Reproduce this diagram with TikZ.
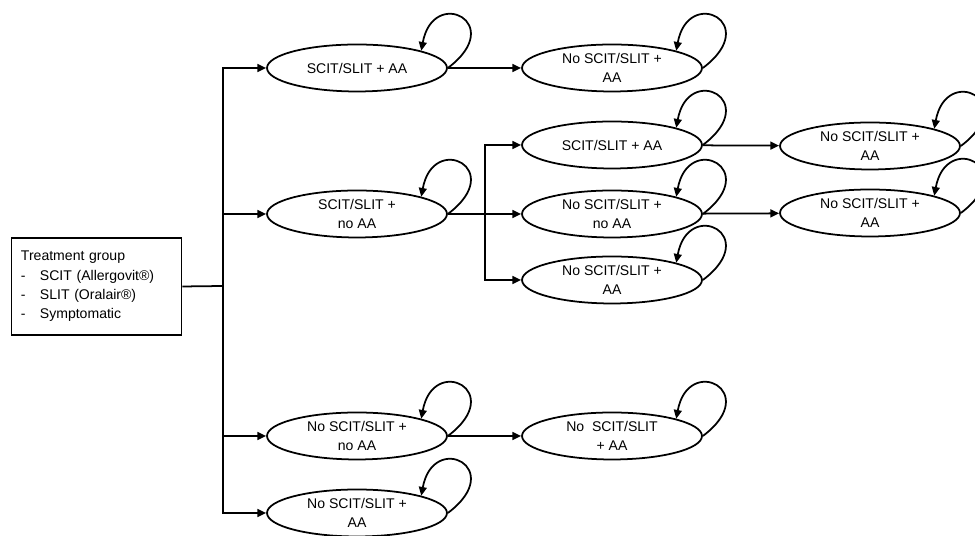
\documentclass[tikz,border=0pt]{standalone}
\usepackage{fontspec}
\setmainfont{Liberation Sans}
\usetikzlibrary{shapes.geometric, arrows.meta}

\tikzset{
	state/.style={draw, ellipse, line width=1pt, minimum width=3.6cm, minimum height=0.94cm, inner sep=0pt, align=center, font=\fontsize{8}{11}\selectfont},
	arr/.style={-{Triangle[length=5pt,width=4.5pt]}, line width=1pt}
}

\begin{document}
\begin{tikzpicture}[x=0.02cm, y=0.02cm]
			
			\useasboundingbox (0,0) rectangle (975,536);
			
			% Treatment group box
			\node[draw, line width=0.8pt, text width=86pt, inner xsep=5.5pt, minimum height=1.94cm, align=left, font=\fontsize{8}{11}\selectfont] (grp) at (96.5,249.5)
				{Treatment group\\
				\makebox[10.8pt][l]{-}SCIT (Allergovit®)\\
				\makebox[10.8pt][l]{-}SLIT (Oralair®)\\
				\makebox[10.8pt][l]{-}Symptomatic};
			
			% FIRST COLUMN
			\node[state] (a1) at (357,468) {SCIT/SLIT + AA};
			\node[state] (a2) at (357,322) {SCIT/SLIT +\\no AA};
			\node[state] (a3) at (357,100) {No SCIT/SLIT +\\no AA};
			\node[state] (a4) at (357,23) {No SCIT/SLIT +\\AA};
			
			% SECOND COLUMN
			\node[state] (b1) at (612,468) {No SCIT/SLIT +\\AA};
			\node[state] (b2) at (612,391) {SCIT/SLIT + AA};
			\node[state] (b3) at (612,322) {No SCIT/SLIT +\\no AA};
			\node[state] (b4) at (612,256) {No SCIT/SLIT +\\AA};
			\node[state] (b5) at (612,100) {No\ \ SCIT/SLIT\\+ AA};
			
			% THIRD COLUMN
			\node[state] (c1) at (870,390) {No SCIT/SLIT +\\AA};
			\node[state] (c2) at (870,323) {No SCIT/SLIT +\\AA};
			
			% Branching from the treatment group
			\coordinate (split) at (223,250);
			\draw[line width=1pt] (grp.east) -- (split);
			\draw[arr] (split) |- (a1);
			\draw[arr] (split) |- (a2);
			\draw[arr] (split) |- (a3);
			\draw[arr] (split) |- (a4);
			
			% Branching from SCIT/SLIT + no AA
			\coordinate (split2) at (485,322);
			\draw[line width=1pt] (a2.east) -- (split2);
			\draw[arr] (split2) |- (b2);
			\draw[arr] (split2) |- (b3);
			\draw[arr] (split2) |- (b4);
			
			% Straight transitions
			\draw[arr] (a1) -- (b1);
			\draw[arr] (a3) -- (b5);
			\draw[arr] (b2) -- (c1);
			\draw[arr] (b3) -- (c2);
			
			% Self loops (staying in the same state)
			\draw[arr] (a1.east) .. controls +(60,45) and +(12,65) .. (a1.north east);
			\draw[arr] (a2.east) .. controls +(60,45) and +(12,65) .. (a2.north east);
			\draw[arr] (a3.east) .. controls +(60,45) and +(12,65) .. (a3.north east);
			\draw[arr] (a4.east) .. controls +(60,45) and +(12,65) .. (a4.north east);
			\draw[arr] (b1.east) .. controls +(60,45) and +(12,65) .. (b1.north east);
			\draw[arr] (b2.east) .. controls +(60,45) and +(12,65) .. (b2.north east);
			\draw[arr] (b3.east) .. controls +(60,45) and +(12,65) .. (b3.north east);
			\draw[arr] (b4.east) .. controls +(60,45) and +(12,65) .. (b4.north east);
			\draw[arr] (b5.east) .. controls +(60,45) and +(12,65) .. (b5.north east);
			\draw[arr] (c1.east) .. controls +(60,45) and +(12,65) .. (c1.north east);
			\draw[arr] (c2.east) .. controls +(60,45) and +(12,65) .. (c2.north east);
			
		\end{tikzpicture}
\end{document}
